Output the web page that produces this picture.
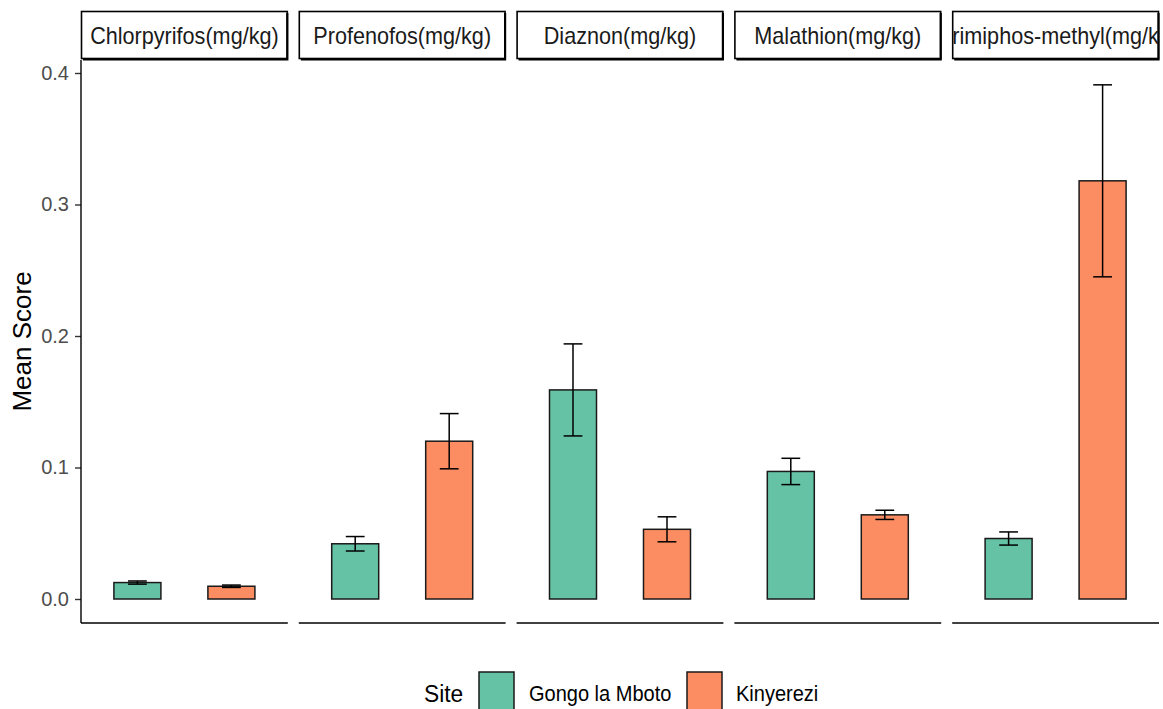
<!DOCTYPE html>
<html>
<head>
<meta charset="utf-8">
<script src="https://cdn.jsdelivr.net/npm/d3@7"></script>
<style>
  body { margin: 0; background: #fff; }
  text { font-family: "Liberation Sans", Arial, sans-serif; }
</style>
</head>
<body>
<script>
const {select, scaleLinear, scaleOrdinal, axisLeft} = d3;
const width = 1163;
const height = 709;

// data
const compounds = ['Chlorpyrifos(mg/kg)', 'Profenofos(mg/kg)', 'Diaznon(mg/kg)', 'Malathion(mg/kg)', 'Pirimiphos-methyl(mg/kg)'];
const sites = ['Gongo la Mboto', 'Kinyerezi'];
const meanGongo = [0.0125, 0.042, 0.159, 0.097, 0.046];
const meanKinyerezi = [0.0097, 0.120, 0.053, 0.064, 0.318];
const seGongo = [0.0012, 0.0055, 0.035, 0.010, 0.005];
const seKinyerezi = [0.0009, 0.021, 0.0095, 0.0035, 0.073];
const yTicks = [0, 0.1, 0.2, 0.3, 0.4];

const rows = [];
compounds.forEach((c, i) => {
    rows.push({compound: c, site: sites[0], mean: meanGongo[i], se: seGongo[i]});
    rows.push({compound: c, site: sites[1], mean: meanKinyerezi[i], se: seKinyerezi[i]});
});

const margin = {top: 60, left: 81, right: 4, bottom: 86};
const gap = 11;
const stripTop = 11;
const panelW = (width - margin.left - margin.right - gap * (compounds.length - 1)) / compounds.length;
const panelBottom = height - margin.bottom;

const color = scaleOrdinal().domain(sites).range(['#66c2a5', '#fc8d62']);

const y = scaleLinear()
    .domain([0, 0.4])
    .range([599, 73]);

// ggplot-style discrete expansion: 0.6 on each side
const x = scaleLinear()
    .domain([0.4, 2.6])
    .range([0, panelW]);

const svg = select('body')
    .append('svg')
    .attr('width', width)
    .attr('height', height);

// text in the picture is a little narrower than it is tall
function squeezed(parent, tx, ty, sx, size, anchor, str, fill) {
    return parent.append('text')
        .attr('transform', `translate(${tx},${ty}) scale(${sx},1)`)
        .attr('text-anchor', anchor)
        .style('font-size', size + 'px')
        .attr('fill', fill)
        .text(str);
}

// y axis
const yAxis = svg.append('g')
    .attr('transform', `translate(${margin.left},0)`)
    .call(axisLeft(y).tickValues(yTicks).tickFormat(d3.format('.1f')).tickSize(6).tickPadding(6));
yAxis.select('.domain').remove();
yAxis.selectAll('line').attr('stroke', '#333').attr('stroke-width', 1.4);
yAxis.selectAll('text')
    .attr('fill', '#4d4d4d')
    .style('font-size', '20px');
svg.append('line')
    .attr('x1', margin.left).attr('x2', margin.left)
    .attr('y1', margin.top).attr('y2', panelBottom)
    .attr('stroke', '#000').attr('stroke-width', 1.4);

svg.append('text')
    .attr('transform', `translate(31,${(margin.top + panelBottom) / 2}) rotate(-90)`)
    .attr('text-anchor', 'middle')
    .style('font-size', '26px')
    .attr('fill', '#000')
    .text('Mean Score');

compounds.forEach((c, i) => {
    const x0 = margin.left + i * (panelW + gap);
    const g = svg.append('g').attr('transform', `translate(${x0},0)`);

    // strip
    const clipId = 'clip' + i;
    g.append('clipPath').attr('id', clipId)
        .append('rect')
        .attr('x', 1).attr('y', stripTop)
        .attr('width', panelW - 2).attr('height', margin.top - stripTop - 2);
    g.append('rect')
        .attr('x', 0.5).attr('y', stripTop + 0.5)
        .attr('width', panelW - 1).attr('height', margin.top - stripTop - 2)
        .attr('fill', '#fff')
        .attr('stroke', '#000')
        .attr('stroke-width', 1.6);
    g.append('path')
        .attr('d', `M${panelW - 0.5},${stripTop + 2}V${margin.top - 0.5}H2`)
        .attr('fill', 'none')
        .attr('stroke', '#000')
        .attr('stroke-width', 2.2);
    const clipG = g.append('g').attr('clip-path', `url(#${clipId})`);
    squeezed(clipG, panelW / 2, 44, 0.94, 23, 'middle', c, '#1a1a1a');

    // x axis line
    g.append('line')
        .attr('x1', 0).attr('x2', panelW)
        .attr('y1', panelBottom).attr('y2', panelBottom)
        .attr('stroke', '#000').attr('stroke-width', 1.4);

    const data = rows.filter(d => d.compound === c);

    g.selectAll('rect.bar')
        .data(data)
        .enter()
        .append('rect')
        .attr('class', 'bar')
        .attr('x', (d, j) => x(j + 1 - 0.25))
        .attr('width', x(1.25) - x(0.75))
        .attr('y', d => y(d.mean))
        .attr('height', d => y(0) - y(d.mean))
        .attr('fill', d => color(d.site))
        .attr('stroke', '#1a1a1a')
        .attr('stroke-width', 1.5);

    const err = g.selectAll('g.err')
        .data(data)
        .enter()
        .append('g')
        .attr('class', 'err')
        .attr('stroke', '#000')
        .attr('stroke-width', 1.5);
    err.append('line')
        .attr('x1', (d, j) => x(j + 1)).attr('x2', (d, j) => x(j + 1))
        .attr('y1', d => y(d.mean + d.se)).attr('y2', d => y(d.mean - d.se));
    err.append('line')
        .attr('x1', (d, j) => x(j + 0.9)).attr('x2', (d, j) => x(j + 1.1))
        .attr('y1', d => y(d.mean + d.se)).attr('y2', d => y(d.mean + d.se));
    err.append('line')
        .attr('x1', (d, j) => x(j + 0.9)).attr('x2', (d, j) => x(j + 1.1))
        .attr('y1', d => y(d.mean - d.se)).attr('y2', d => y(d.mean - d.se));
});

// legend
const legend = svg.append('g');
squeezed(legend, 424, 702, 0.95, 24, 'start', 'Site', '#000');
const keyX = [479, 687];
const labX = [529, 736];
sites.forEach((s, i) => {
    legend.append('rect')
        .attr('x', keyX[i]).attr('y', 672)
        .attr('width', 35).attr('height', 40)
        .attr('fill', color(s))
        .attr('stroke', '#1a1a1a')
        .attr('stroke-width', 1.5);
    squeezed(legend, labX[i], 701, 0.91, 22, 'start', s, '#000');
});
</script>
</body>
</html>
